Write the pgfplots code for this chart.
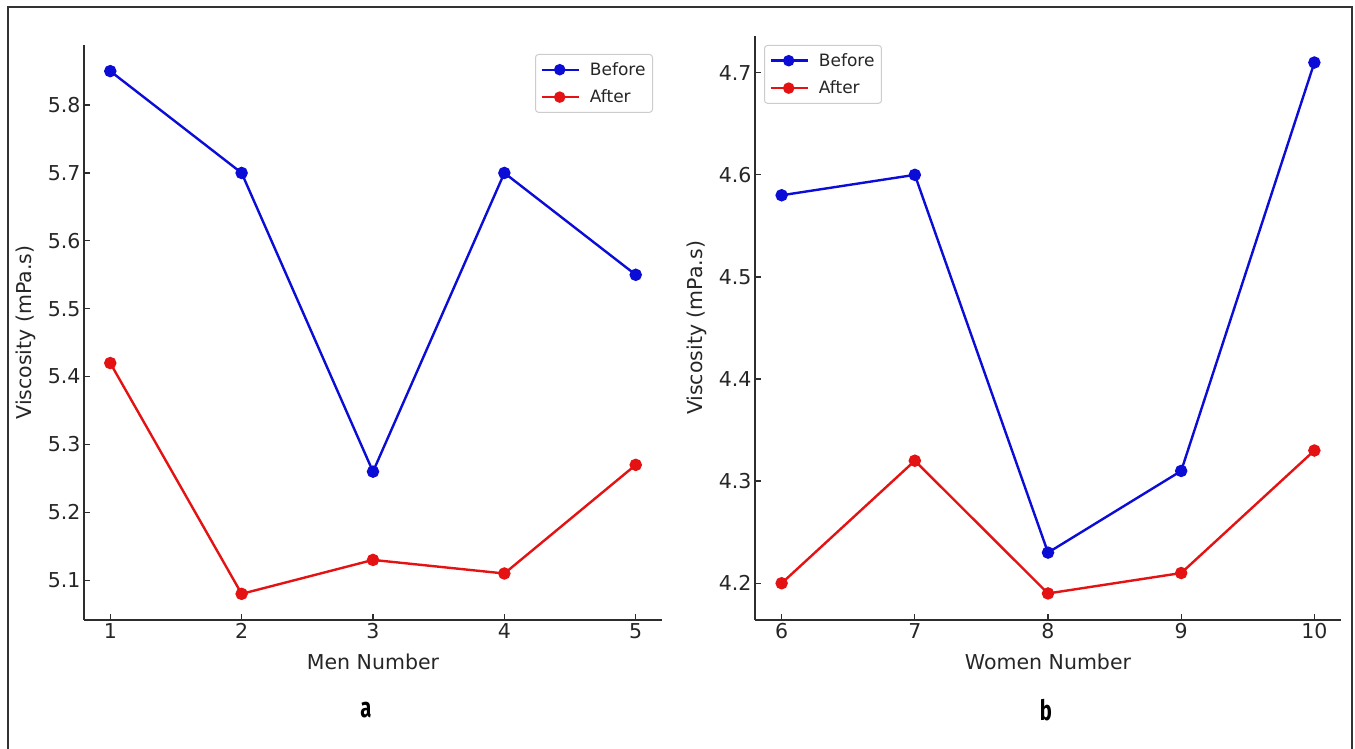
\documentclass[border=0pt]{standalone}
\usepackage{fontspec}
\setmainfont{DejaVu Sans}
\newfontfamily\labelfont{Fira Sans}
\usepackage{pgfplots}
\pgfplotsset{compat=1.18}
\definecolor{cblue}{RGB}{12,12,215}
\definecolor{cred}{RGB}{228,18,18}
\definecolor{spine}{RGB}{45,45,45}
\definecolor{txt}{RGB}{38,38,38}
\pgfplotsset{
  myaxis/.style={
    scale only axis,
    axis lines*=left,
    axis line style={-, draw=spine, line width=1.6pt},
    tick align=inside,
    major tick length=6pt,
    tick style={draw=spine, line width=1.3pt},
    /pgf/number format/assume math mode=true,
    tick label style={font=\fontsize{20.5}{24}\selectfont, text=txt},
    every axis x label/.style={at={(axis description cs:0.5,0)}, yshift=-42pt, anchor=center, font=\fontsize{20.5}{24}\selectfont, text=txt},
    every axis y label/.style={at={(axis description cs:0,0.5)}, xshift=-58pt, rotate=90, anchor=center, font=\fontsize{20.5}{24}\selectfont, text=txt},
    yticklabel style={/pgf/number format/.cd, fixed, precision=1, fixed zerofill},
    legend cell align=left,
    legend image code/.code={\draw[mark repeat=2,mark phase=2, mark size=4.5pt] plot coordinates {(0pt,0pt)(18pt,0pt)(37pt,0pt)};},
    legend style={font=\fontsize{17}{20}\selectfont, text=txt, draw=black!20, rounded corners=3pt, line width=1pt, inner xsep=5pt, inner ysep=6pt, row sep=9pt,
      /tikz/every odd column/.append style={column sep=8pt}},
    every axis plot/.append style={line width=2.4pt, mark=*, mark size=5pt, mark options={solid}},
  }
}
\begin{document}
\begin{tikzpicture}
\useasboundingbox (0pt,0pt) rectangle (1355pt,749pt);
\draw[line width=1.5pt, black!80] (8pt,0pt) -- (8pt,742pt) -- (1352pt,742pt) -- (1352pt,0pt);
\begin{axis}[myaxis,
  at={(84pt,129pt)}, anchor=south west,
  width=578pt, height=575pt,
  xmin=0.8, xmax=5.2, ymin=5.0415, ymax=5.8885,
  xtick={1,2,3,4,5},
  ytick={5.1,5.2,5.3,5.4,5.5,5.6,5.7,5.8},
  xlabel={Men Number}, ylabel={Viscosity (mPa.s)},
  legend style={at={(1,1)}, anchor=north east, xshift=-9pt, yshift=-9pt},
]
\addplot[cblue] coordinates {(1,5.85) (2,5.70) (3,5.26) (4,5.70) (5,5.55)};
\addlegendentry{Before}
\addplot[cred] coordinates {(1,5.42) (2,5.08) (3,5.13) (4,5.11) (5,5.27)};
\addlegendentry{After}
\end{axis}
\begin{axis}[myaxis,
  at={(755pt,129pt)}, anchor=south west,
  width=586pt, height=584pt,
  xmin=5.8, xmax=10.2, ymin=4.164, ymax=4.736,
  xtick={6,7,8,9,10},
  ytick={4.2,4.3,4.4,4.5,4.6,4.7},
  xlabel={Women Number}, ylabel={Viscosity (mPa.s)},
  legend style={at={(0,1)}, anchor=north west, xshift=9pt, yshift=-9pt},
]
\addplot[cblue] coordinates {(6,4.58) (7,4.60) (8,4.23) (9,4.31) (10,4.71)};
\addlegendentry{Before}
\addplot[cred] coordinates {(6,4.20) (7,4.32) (8,4.19) (9,4.21) (10,4.33)};
\addlegendentry{After}
\end{axis}
\node[anchor=base, inner sep=0pt] at (366pt,31pt) {\scalebox{0.72}[1]{\labelfont\bfseries\fontsize{28}{30}\selectfont a}};
\node[anchor=base, inner sep=0pt] at (1046pt,28pt) {\scalebox{0.72}[1]{\labelfont\bfseries\fontsize{28}{30}\selectfont b}};
\end{tikzpicture}
\end{document}
